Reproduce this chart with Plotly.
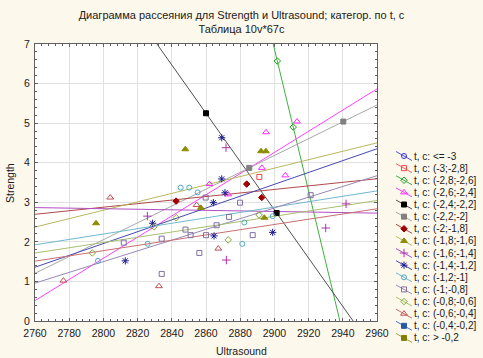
import numpy as np
import plotly.graph_objects as go

# ---------------- data ----------------
labels = ["t, c: <= -3", "t, c: (-3;-2,8]", "t, c: (-2,8;-2,6]", "t, c: (-2,6;-2,4]",
          "t, c: (-2,4;-2,2]", "t, c: (-2,2;-2]", "t, c: (-2;-1,8]", "t, c: (-1,8;-1,6]",
          "t, c: (-1,6;-1,4]", "t, c: (-1,4;-1,2]", "t, c: (-1,2;-1]", "t, c: (-1;-0,8]",
          "t, c: (-0,8;-0,6]", "t, c: (-0,6;-0,4]", "t, c: (-0,4;-0,2]", "t, c: > -0,2"]

us_g1 = []
st_g1 = []
us_g2 = [2891.2]
st_g2 = [3.64]
us_g3 = [2901.7, 2911.0]
st_g3 = [6.57, 4.90]
us_g4 = [2862.0, 2873.0, 2892.7, 2895.1, 2906.4, 2913.2]
st_g4 = [3.46, 3.20, 3.87, 4.77, 3.68, 5.04]
us_g5 = [2860.0, 2901.3]
st_g5 = [5.25, 2.73]
us_g6 = [2885.3, 2940.3]
st_g6 = [3.87, 5.04]
us_g7 = [2842.5, 2883.8, 2892.6]
st_g7 = [3.03, 3.46, 3.12]
us_g8 = [2795.7, 2847.9, 2857.0, 2892.2, 2895.0, 2894.1]
st_g8 = [2.47, 4.34, 2.86, 4.29, 4.29, 2.61]
us_g9 = [2825.7, 2871.7, 2871.9, 2930.0, 2941.9]
st_g9 = [2.65, 4.38, 1.54, 2.35, 2.96]
us_g10 = [2812.8, 2828.8, 2864.3, 2864.7, 2869.2, 2869.2, 2871.1, 2899.0]
st_g10 = [1.52, 2.47, 2.99, 2.15, 3.59, 4.63, 3.24, 2.24]
us_g11 = [2796.8, 2825.9, 2845.2, 2850.2, 2855.1, 2881.2, 2882.4, 2899.0]
st_g11 = [1.52, 1.95, 3.37, 3.37, 3.25, 1.95, 2.49, 2.65]
us_g12 = [2811.9, 2834.1, 2834.1, 2848.0, 2851.0, 2856.1, 2859.8, 2860.0, 2866.2, 2873.5, 2879.9, 2887.3, 2921.2]
st_g12 = [1.98, 2.08, 1.19, 2.31, 2.17, 1.72, 3.12, 2.17, 2.42, 2.63, 2.99, 2.17, 3.18]
us_g13 = [2793.5, 2829.6, 2842.6, 2873.0, 2891.0]
st_g13 = [1.72, 2.38, 2.61, 2.05, 2.68]
us_g14 = [2776.6, 2804.0, 2832.5, 2854.5, 2867.2]
st_g14 = [1.02, 3.12, 0.88, 2.93, 1.83]
us_g15 = []
st_g15 = []
us_g16 = []
st_g16 = []

x_ticks = [2760, 2780, 2800, 2820, 2840, 2860, 2880, 2900, 2920, 2940, 2960]
y_ticks = [0, 1, 2, 3, 4, 5, 6, 7]

# ---------------- styles ----------------
group_x = [us_g1, us_g2, us_g3, us_g4, us_g5, us_g6, us_g7, us_g8,
           us_g9, us_g10, us_g11, us_g12, us_g13, us_g14, us_g15, us_g16]
group_y = [st_g1, st_g2, st_g3, st_g4, st_g5, st_g6, st_g7, st_g8,
           st_g9, st_g10, st_g11, st_g12, st_g13, st_g14, st_g15, st_g16]

mcolors = ["#3030E0", "#F04848", "#18A018", "#FF28FF", "#000000", "#808080", "#A00000", "#8C8C00",
           "#B030B0", "#1A1A90", "#50A8C8", "#8070A0", "#80A830", "#C05050", "#2858A8", "#808000"]
lcolors = ["#5050E8", "#F06060", "#40B040", "#FF40FF", "#505050", "#A8A8A8", "#B04848", "#B8B860",
           "#B050C0", "#4848B0", "#70B8D0", "#9888B8", "#A8C070", "#C87070", "#5078C0", "#A0A040"]
symbols = ["circle-open", "square-open", "diamond-open", "triangle-up-open", "square", "square",
           "diamond", "triangle-up", "cross-thin-open", "asterisk-open", "circle-open", "square-open",
           "diamond-open", "triangle-up-open", "square", "square"]
msizes = [5, 5, 5, 6, 5, 5, 5, 6, 6, 6, 5, 5, 5, 6, 5, 5]

X_MIN, X_MAX = 2760, 2960
Y_MIN, Y_MAX = 0, 7
W, H = 483, 358
PX_L, PX_R, PX_T, PX_B = 35, 377, 44, 321
FONT = "Liberation Sans, Arial, sans-serif"
TXT = "#202020"
BG = "#FDF8EC"

fig = go.Figure()

# regression lines
for i in range(16):
    xs, ys = group_x[i], group_y[i]
    if len(xs) >= 2:
        coef = np.polyfit(xs, ys, 1)
        lx = np.array([X_MIN, X_MAX], dtype=float)
        fig.add_trace(go.Scatter(x=lx, y=np.polyval(coef, lx), mode="lines",
                                 line=dict(color=lcolors[i], width=1),
                                 showlegend=False, hoverinfo="skip"))

# points
for i in range(16):
    xs, ys = group_x[i], group_y[i]
    if len(xs):
        fig.add_trace(go.Scatter(x=xs, y=ys, mode="markers", name=labels[i],
                                 marker=dict(symbol=symbols[i], size=msizes[i], color=mcolors[i],
                                             line=dict(color=mcolors[i], width=1)),
                                 showlegend=False, cliponaxis=False))

# ---------------- manual legend (pixel axes on the right) ----------------
LEG_X0 = 381.0
row0, rowstep = 156.0, 12.13
for i in range(16):
    yc = row0 + rowstep * i
    fig.add_trace(go.Scatter(x=[396, 412], y=[yc - 4.5, yc + 4.5], mode="lines",
                             line=dict(color=lcolors[i], width=1), xaxis="x2", yaxis="y2",
                             showlegend=False, hoverinfo="skip"))
    fig.add_trace(go.Scatter(x=[404], y=[yc], mode="markers", xaxis="x2", yaxis="y2",
                             marker=dict(symbol=symbols[i], size=msizes[i], color=mcolors[i],
                                         line=dict(color=mcolors[i], width=1)),
                             showlegend=False, hoverinfo="skip"))
    fig.add_annotation(x=412, y=yc, xref="x2", yref="y2", text=labels[i], showarrow=False,
                       xanchor="left", yanchor="middle", font=dict(family=FONT, size=10, color=TXT))

# axis titles centred on the page
fig.add_annotation(x=0.5, y=1 - 351 / H, xref="paper", yref="paper", text="Ultrasound",
                   showarrow=False, xanchor="center", yanchor="middle",
                   font=dict(family=FONT, size=10.5, color=TXT))
fig.add_annotation(x=10 / W, y=1 - 183 / H, xref="paper", yref="paper", text="Strength",
                   showarrow=False, textangle=-90, xanchor="center", yanchor="middle",
                   font=dict(family=FONT, size=10.5, color=TXT))

axis_common = dict(showline=True, linecolor="#606060", linewidth=1, mirror="allticks",
                   ticks="inside", ticklen=3, tickcolor="#606060", showgrid=True,
                   gridcolor="#E2E2E2", gridwidth=1, zeroline=False, automargin=False,
                   tickfont=dict(family=FONT, size=10.5, color=TXT))

fig.update_layout(
    width=W, height=H,
    margin=dict(l=0, r=0, t=0, b=0, pad=0),
    paper_bgcolor=BG,
    plot_bgcolor="#FFFFFF",
    showlegend=False,
    title=dict(text="Диаграмма рассеяния для Strength и Ultrasound; категор. по t, c<br>Таблица 10v*67c",
               x=0.5, xanchor="center", y=1 - 19 / H, yanchor="middle", automargin=False,
               font=dict(family=FONT, size=11, color=TXT)),
    xaxis=dict(domain=[PX_L / W, PX_R / W], range=[X_MIN, X_MAX], tickvals=x_ticks,
               ticklabelstandoff=2,
               minor=dict(ticks="inside", ticklen=2, dtick=4, tickcolor="#606060", showgrid=False),
               anchor="y", **axis_common),
    yaxis=dict(domain=[1 - PX_B / H, 1 - PX_T / H], range=[Y_MIN, Y_MAX], tickvals=y_ticks,
               ticklabelstandoff=2,
               minor=dict(ticks="inside", ticklen=2, dtick=0.2, tickcolor="#606060", showgrid=False),
               anchor="x", **axis_common),
    xaxis2=dict(domain=[LEG_X0 / W, 1], range=[LEG_X0, W], visible=False, anchor="y2",
                fixedrange=True, automargin=False),
    yaxis2=dict(domain=[0, 1], range=[H, 0], visible=False, anchor="x2",
                fixedrange=True, automargin=False),
    shapes=[dict(type="rect", xref="x2 domain", yref="y2 domain", x0=0, x1=1, y0=0, y1=1,
                 fillcolor=BG, line=dict(width=0), layer="below")],
)

fig.write_html("out.html", config={"displayModeBar": False},
               post_script="document.body.style.margin='0';document.body.style.background='" + BG + "';")
